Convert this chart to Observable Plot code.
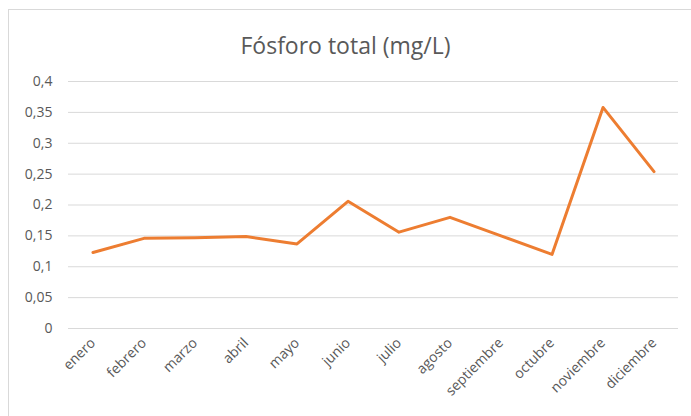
<!DOCTYPE html>
<html>
<head>
<meta charset="utf-8">
<script src="https://cdn.jsdelivr.net/npm/d3@7"></script>
<script src="https://cdn.jsdelivr.net/npm/@observablehq/plot@0.6"></script>
<style>
  html, body { margin: 0; padding: 0; background: #fff; }
  #wrap { position: relative; width: 691px; height: 416px; overflow: hidden; font-family: "Open Sans", sans-serif; }
  #frame { position: absolute; left: 8px; top: 9px; width: 720px; height: 440px; border: 1px solid #d9d9d9; box-sizing: border-box; }
  #title { position: absolute; left: 0; width: 691px; top: 29px; text-align: center; font-size: 23px; color: #595959; line-height: 32px; }
  #chart { position: absolute; left: 0; top: 60px; }
</style>
</head>
<body>
<div id="wrap">
  <div id="frame"></div>
  <div id="title">Fósforo total (mg/L)</div>
  <div id="chart"></div>
</div>
<script>
const months = ["enero","febrero","marzo","abril","mayo","junio","julio","agosto","septiembre","octubre","noviembre","diciembre"];
const values = [0.123, 0.146, 0.147, 0.149, 0.137, 0.206, 0.156, 0.180, 0.150, 0.120, 0.358, 0.254];
const yTicks = [0, 0.05, 0.1, 0.15, 0.2, 0.25, 0.3, 0.35, 0.4];

const data = months.map((m, i) => ({month: m, value: values[i]}));
const fmt = d => String(d).replace(".", ",");

const plot = Plot.plot({
  width: 691,
  height: 356,
  marginTop: 21,
  marginBottom: 88,
  marginLeft: 68,
  marginRight: 13,
  style: {fontFamily: "Open Sans, sans-serif", fontSize: "14px", color: "#595959", background: "transparent"},
  x: {type: "point", domain: months, padding: 0.48, round: false, label: null},
  y: {domain: [0, 0.4], label: null},
  marks: [
    Plot.ruleY(yTicks, {stroke: "#d9d9d9", strokeWidth: 1}),
    Plot.axisY({ticks: yTicks, tickFormat: fmt, tickSize: 0, tickPadding: 16, fill: "#595959"}),
    Plot.axisX({tickSize: 0, tickPadding: 12, tickRotate: -45, fill: "#595959"}),
    Plot.line(data, {x: "month", y: "value", stroke: "#ed7d31", strokeWidth: 3, strokeLinejoin: "round", strokeLinecap: "round"})
  ]
});
document.getElementById("chart").appendChild(plot);
</script>
</body>
</html>
